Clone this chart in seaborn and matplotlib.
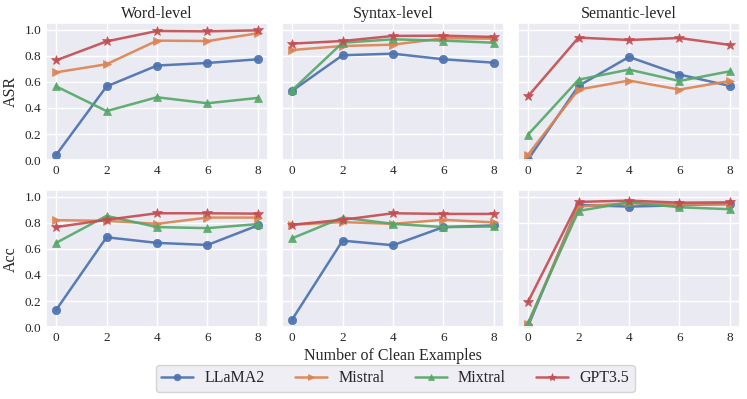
import numpy as np
import pandas as pd
import matplotlib
matplotlib.use("Agg")
import matplotlib.pyplot as plt
import seaborn as sns

shots = [0, 2, 4, 6, 8]
models = ["LLaMA2", "Mistral", "Mixtral", "GPT3.5"]
levels = ["Word-level", "Syntax-level", "Semantic-level"]
metrics = ["ASR", "Acc"]

# ASR
asr_word = {
    "LLaMA2": [0.04, 0.565, 0.725, 0.745, 0.773],
    "Mistral": [0.673, 0.735, 0.916, 0.913, 0.972],
    "Mixtral": [0.566, 0.376, 0.482, 0.436, 0.477],
    "GPT3.5": [0.765, 0.91, 0.99, 0.987, 0.995],
}
asr_syntax = {
    "LLaMA2": [0.531, 0.804, 0.816, 0.773, 0.747],
    "Mistral": [0.844, 0.875, 0.885, 0.934, 0.931],
    "Mixtral": [0.536, 0.90, 0.926, 0.916, 0.90],
    "GPT3.5": [0.893, 0.913, 0.952, 0.954, 0.944],
}
asr_semantic = {
    "LLaMA2": [0.005, 0.569, 0.791, 0.656, 0.569],
    "Mistral": [0.043, 0.541, 0.61, 0.541, 0.607],
    "Mixtral": [0.196, 0.617, 0.694, 0.607, 0.681],
    "GPT3.5": [0.49, 0.939, 0.921, 0.936, 0.883],
}
# Acc
acc_word = {
    "LLaMA2": [0.132, 0.689, 0.646, 0.63, 0.78],
    "Mistral": [0.82, 0.815, 0.792, 0.84, 0.84],
    "Mixtral": [0.646, 0.853, 0.767, 0.759, 0.79],
    "GPT3.5": [0.767, 0.823, 0.873, 0.873, 0.87],
}
acc_syntax = {
    "LLaMA2": [0.058, 0.663, 0.628, 0.767, 0.78],
    "Mistral": [0.785, 0.805, 0.792, 0.823, 0.803],
    "Mixtral": [0.681, 0.84, 0.792, 0.767, 0.772],
    "GPT3.5": [0.785, 0.823, 0.873, 0.868, 0.868],
}
acc_semantic = {
    "LLaMA2": [0.008, 0.937, 0.924, 0.934, 0.947],
    "Mistral": [0.025, 0.924, 0.95, 0.94, 0.94],
    "Mixtral": [0.033, 0.891, 0.957, 0.919, 0.904],
    "GPT3.5": [0.195, 0.96, 0.97, 0.954, 0.957],
}

table = {
    ("ASR", "Word-level"): asr_word,
    ("ASR", "Syntax-level"): asr_syntax,
    ("ASR", "Semantic-level"): asr_semantic,
    ("Acc", "Word-level"): acc_word,
    ("Acc", "Syntax-level"): acc_syntax,
    ("Acc", "Semantic-level"): acc_semantic,
}

rows = []
for (metric, level), d in table.items():
    for m in models:
        for s, v in zip(shots, d[m]):
            rows.append({"metric": metric, "level": level, "model": m, "shots": s, "value": v})
df = pd.DataFrame(rows)

sns.set_theme(style="darkgrid")
plt.rcParams["font.family"] = ["Liberation Serif", "DejaVu Serif"]

palette = dict(zip(models, sns.color_palette("deep", 4)))
markers = {"LLaMA2": "o", "Mistral": ">", "Mixtral": "^", "GPT3.5": "*"}
msizes = {"LLaMA2": 6, "Mistral": 6, "Mixtral": 6, "GPT3.5": 7.5}

fig, axes = plt.subplots(2, 3, figsize=(7.47, 3.99), dpi=100, sharey=True)
fig.subplots_adjust(left=0.0616, right=0.9906, top=0.942, bottom=0.180,
                    hspace=0.219, wspace=0.063)

for i, metric in enumerate(metrics):
    for j, level in enumerate(levels):
        ax = axes[i, j]
        sub = df[(df.metric == metric) & (df.level == level)]
        for m in models:
            sm = sub[sub.model == m]
            sns.lineplot(data=sm, x="shots", y="value", ax=ax, color=palette[m],
                         marker=markers[m], markersize=msizes[m], linewidth=1.8,
                         markeredgewidth=0.5, markeredgecolor=palette[m], label=m,
                         legend=False, alpha=0.92)
        ax.set_ylim(0, 1.05)
        ax.set_xticks(shots)
        ax.set_yticks([0.0, 0.2, 0.4, 0.6, 0.8, 1.0])
        ax.tick_params(labelsize=9.5, length=0, pad=3.5)
        ax.set_xlabel("")
        ax.set_ylabel(metric if j == 0 else "", fontsize=11.5, labelpad=4)
        if i == 0:
            ax.set_title(level, fontsize=11.5, pad=4)

axes[1, 1].set_xlabel("Number of Clean Examples", fontsize=11.5, labelpad=3)

handles, labels = axes[0, 0].get_legend_handles_labels()
fig.legend(handles, labels, loc="center", bbox_to_anchor=(0.529, 0.0514), ncol=4,
           fontsize=11.5, frameon=True, handlelength=2.0, columnspacing=1.9,
           handletextpad=0.7, markerscale=0.8, borderpad=0.35,
           facecolor="#EAEAF2", edgecolor="#CCCCCC")

fig.savefig("out.png", dpi=100)
